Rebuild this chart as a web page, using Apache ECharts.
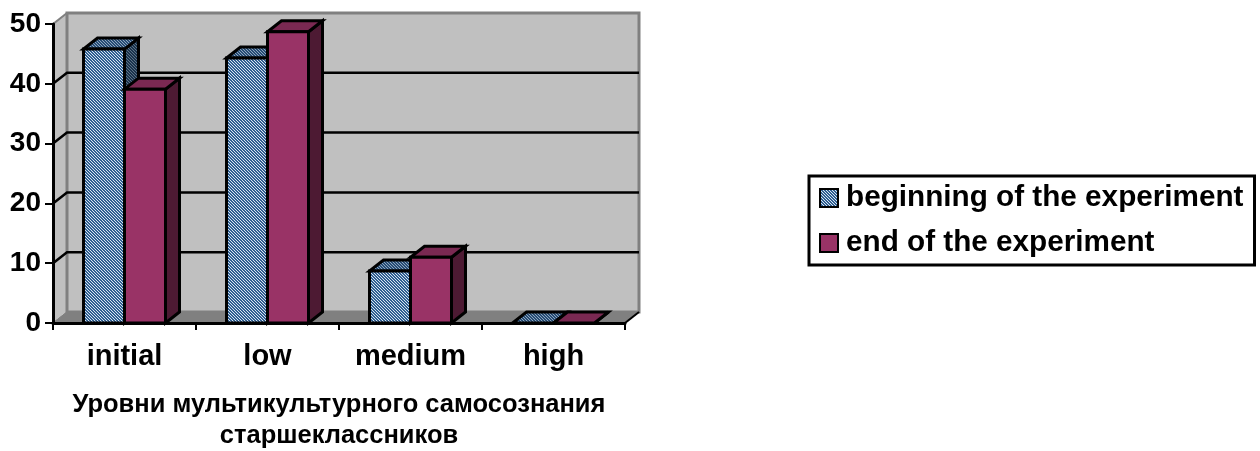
<!DOCTYPE html>
<html>
<head>
<meta charset="utf-8">
<style>
html,body{margin:0;padding:0;background:#fff;}
#chart{width:1260px;height:451px;}
</style>
<script src="https://cdn.jsdelivr.net/npm/echarts@6/dist/echarts.min.js"></script>
</head>
<body>
<div id="chart"></div>
<script>
var categories = ['initial', 'low', 'medium', 'high'];
var beginning = [45.8, 44.3, 8.7, 0];
var ending = [39.1, 48.7, 11, 0];
var yTicks = [0, 10, 20, 30, 40, 50];
var xName = 'Уровни мультикультурного самосознания\nстаршеклассников';
var seriesNames = ['beginning of the experiment', 'end of the experiment'];

var FONT = '"Liberation Sans", Arial, sans-serif';
var depthX = 14, depthY = 11;
var barRatio = 41 / 143;

// дизеринг для синей заливки
function dither(dark, light) {
    var c = document.createElement('canvas');
    c.width = 3; c.height = 3;
    var ctx = c.getContext('2d');
    ctx.fillStyle = light;
    ctx.fillRect(0, 0, 3, 3);
    ctx.fillStyle = dark;
    for (var i = 0; i < 3; i++) {
        ctx.fillRect(i, i, 1, 1);
        ctx.fillRect((i + 1) % 3, i, 1, 1);
    }
    return { image: c, repeat: 'repeat' };
}
var blueFront = dither('#2f5f92', '#d8e4f0');
var blueTop = dither('#264c75', '#8fa6bd');
var blueSide = dither('#1a334d', '#5f7486');

function poly(points, fill) {
    return {
        type: 'polygon',
        shape: { points: points },
        style: { fill: fill, stroke: '#000', lineWidth: 3, lineJoin: 'miter' }
    };
}

function barRenderer(offset, front, top, side) {
    return function (params, api) {
        var i = api.value(0);
        var p = api.coord([i, api.value(1)]);
        var base = api.coord([i, 0]);
        var w = api.size([1, 0])[0] * barRatio;
        var x0 = p[0] + offset * w, x1 = x0 + w;
        var children = [
            poly([[x1, base[1]], [x1 + depthX, base[1] - depthY], [x1 + depthX, p[1] - depthY], [x1, p[1]]], side),
            poly([[x0, p[1]], [x1, p[1]], [x1 + depthX, p[1] - depthY], [x0 + depthX, p[1] - depthY]], top)
        ];
        if (base[1] - p[1] > 0) {
            children.push(poly([[x0, base[1]], [x1, base[1]], [x1, p[1]], [x0, p[1]]], front));
        }
        return { type: 'group', children: children };
    };
}

// стены и пол
function wallRenderer(params, api) {
    var cs = params.coordSys;
    var l = cs.x, r = cs.x + cs.width;
    var b = api.coord([0, yTicks[0]])[1];
    var t = api.coord([0, yTicks[yTicks.length - 1]])[1];
    var children = [
        { type: 'polygon', shape: { points: [[l, b], [l + depthX, b - depthY], [l + depthX, t - depthY], [l, t]] },
          style: { fill: '#c0c0c0', stroke: '#808080', lineWidth: 1 } },
        { type: 'rect', shape: { x: l + depthX, y: t - depthY, width: r - l, height: b - t },
          style: { fill: '#c0c0c0', stroke: '#808080', lineWidth: 3 } },
        { type: 'polygon', shape: { points: [[l, b], [r, b], [r + depthX, b - depthY], [l + depthX, b - depthY]] },
          style: { fill: '#808080', stroke: '#808080', lineWidth: 1 } }
    ];
    yTicks.forEach(function (v) {
        var y = api.coord([0, v])[1];
        if (v > 0 && v < yTicks[yTicks.length - 1]) {
            children.push({ type: 'polyline',
                shape: { points: [[l, y], [l + depthX, y - depthY], [r + depthX, y - depthY]] },
                style: { fill: null, stroke: '#000', lineWidth: 2.5 } });
        }
    });
    children.push({ type: 'line', shape: { x1: l, y1: t, x2: l + depthX, y2: t - depthY },
        style: { stroke: '#808080', lineWidth: 2 } });
    children.push({ type: 'line', shape: { x1: r, y1: b, x2: r + depthX, y2: b - depthY },
        style: { stroke: '#000', lineWidth: 2 } });
    return { type: 'group', children: children };
}

function toPairs(values) {
    return values.map(function (v, i) { return [i, v]; });
}

var chart = echarts.init(document.getElementById('chart'));
chart.setOption({
    animation: false,
    backgroundColor: '#fff',
    grid: { left: 53, top: 24, width: 572, height: 299, outerBoundsMode: 'none' },
    legend: {
        left: 809,
        top: 176,
        orient: 'vertical',
        data: seriesNames,
        icon: 'rect',
        itemWidth: 18,
        itemHeight: 18,
        itemGap: 15,
        padding: [7, 11, 7, 10],
        borderColor: '#000',
        borderWidth: 3,
        selectedMode: false,
        itemStyle: { borderColor: '#000', borderWidth: 2 },
        textStyle: { fontFamily: FONT, fontWeight: 'bold', fontSize: 29.7, color: '#000', padding: [0, 0, 0, 3] }
    },
    xAxis: {
        type: 'category',
        data: categories,
        z: 5,
        axisLine: { lineStyle: { color: '#000', width: 3 } },
        axisTick: { show: true, length: 7, lineStyle: { color: '#000', width: 2 } },
        axisLabel: { interval: 0, margin: 19, fontFamily: FONT, fontWeight: 'bold', fontSize: 29, color: '#000' },
        name: xName,
        nameLocation: 'middle',
        nameGap: 66,
        nameTextStyle: { fontFamily: FONT, fontWeight: 'bold', fontSize: 25.5, color: '#000', lineHeight: 31 }
    },
    yAxis: {
        type: 'value',
        min: 0,
        max: 50,
        interval: 10,
        z: 5,
        splitLine: { show: false },
        axisLine: { show: true, lineStyle: { color: '#000', width: 3 } },
        axisTick: { show: true, length: 8, lineStyle: { color: '#000', width: 2 } },
        axisLabel: { margin: 12, fontFamily: FONT, fontWeight: 'bold', fontSize: 28, color: '#000' }
    },
    series: [
        { type: 'custom', name: 'walls', silent: true, z: 1, clip: false,
          data: [[0, 0]], renderItem: wallRenderer },
        { type: 'custom', name: seriesNames[0], z: 2, clip: false,
          itemStyle: { color: blueFront },
          encode: { x: 0, y: 1 },
          data: toPairs(beginning), renderItem: barRenderer(-1, blueFront, blueTop, blueSide) },
        { type: 'custom', name: seriesNames[1], z: 3, clip: false,
          itemStyle: { color: '#993366' },
          encode: { x: 0, y: 1 },
          data: toPairs(ending), renderItem: barRenderer(0, '#993366', '#7a2952', '#4d1a33') }
    ]
});
</script>
</body>
</html>
